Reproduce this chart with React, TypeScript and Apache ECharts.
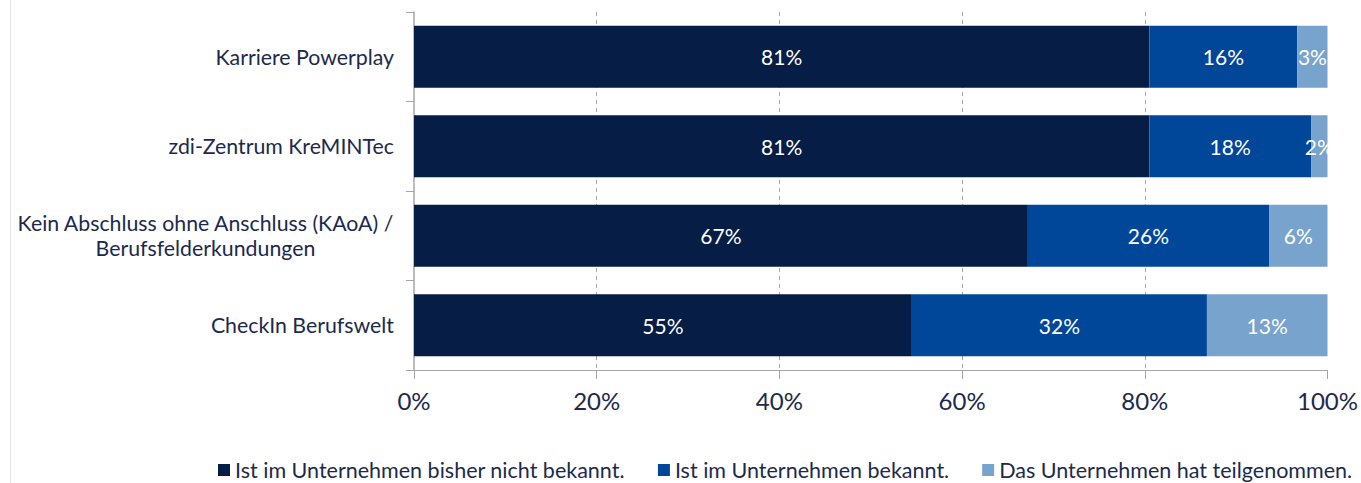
import React, { useEffect, useRef } from "react";
import * as echarts from "echarts";

const categories = [
  "Karriere Powerplay",
  "zdi-Zentrum KreMINTec",
  "Kein Abschluss ohne Anschluss (KAoA) /\nBerufsfelderkundungen",
  "CheckIn Berufswelt",
];
const seriesNames = [
  "Ist im Unternehmen bisher nicht bekannt.",
  "Ist im Unternehmen bekannt.",
  "Das Unternehmen hat teilgenommen.",
];
const notKnown = [80.5, 80.5, 67.2, 54.5];
const known = [16.2, 17.7, 26.4, 32.3];
const participated = [3.3, 1.8, 6.4, 13.2];
const xTicks = [0, 20, 40, 60, 80, 100];

const colors = ["#061D45", "#00479A", "#77A3CC"];
const textColor = "#1B2A4C";
const axisGray = "#A6A6A6";
const FONT = "Lato";

export default function App() {
  const ref = useRef<HTMLDivElement>(null);
  useEffect(() => {
    if (!ref.current) return;
    const chart = echarts.init(ref.current, undefined, { renderer: "svg" });
    const dataSets = [notKnown, known, participated];
    chart.setOption({
      animation: false,
      textStyle: { fontFamily: FONT },
      graphic: [
        {
          type: "line",
          shape: { x1: 10.5, y1: 0, x2: 10.5, y2: 483 },
          style: { stroke: "#E3E3E3", lineWidth: 1 },
        },
      ],
      grid: { left: 414, right: 33, top: 12, bottom: 113, containLabel: false },
      legend: {
        left: 218,
        top: 459,
        padding: 0,
        itemWidth: 12,
        itemHeight: 12,
        itemGap: 33,
        icon: "rect",
        data: seriesNames,
        textStyle: { color: textColor, fontSize: 21.5, fontFamily: FONT, lineHeight: 22 },
      },
      xAxis: {
        type: "value",
        min: xTicks[0],
        max: xTicks[xTicks.length - 1],
        interval: 20,
        axisLine: { show: true, lineStyle: { color: axisGray, width: 1 } },
        axisTick: { show: true, length: 9, lineStyle: { color: axisGray } },
        axisLabel: {
          color: textColor,
          fontSize: 24,
          margin: 18,
          fontFamily: FONT,
          formatter: (v: number) => v + "%",
        },
        splitLine: {
          show: true,
          showMinLine: false,
          showMaxLine: false,
          lineStyle: { color: axisGray, type: [4, 4], width: 1 },
        },
      },
      yAxis: {
        type: "category",
        inverse: true,
        data: categories,
        axisLine: { show: true, lineStyle: { color: axisGray, width: 1.5 } },
        axisTick: { show: true, length: 8, lineStyle: { color: axisGray } },
        axisLabel: {
          color: textColor,
          fontSize: 21.3,
          margin: 20,
          fontFamily: FONT,
          lineHeight: 25,
          formatter: (v: string) =>
            v
              .split("\n")
              .map((s) => "{c|" + s + "}")
              .join("\n"),
          rich: {
            c: { align: "center", color: textColor, fontSize: 21.3, fontFamily: FONT, lineHeight: 25 },
          },
        },
        splitLine: { show: false },
      },
      series: seriesNames.map((name, i) => ({
        name,
        type: "bar",
        stack: "total",
        barWidth: 62,
        data: dataSets[i],
        itemStyle: { color: colors[i] },
        label: {
          show: true,
          position: "inside",
          color: "#FFFFFF",
          fontSize: 21,
          fontFamily: FONT,
          formatter: (p: any) => Math.round(p.value) + "%",
        },
      })),
    });
    return () => chart.dispose();
  }, []);
  return (
    <div
      ref={ref}
      style={{ position: "fixed", left: 0, top: 0, width: 1361, height: 483, background: "#fff" }}
    />
  );
}
